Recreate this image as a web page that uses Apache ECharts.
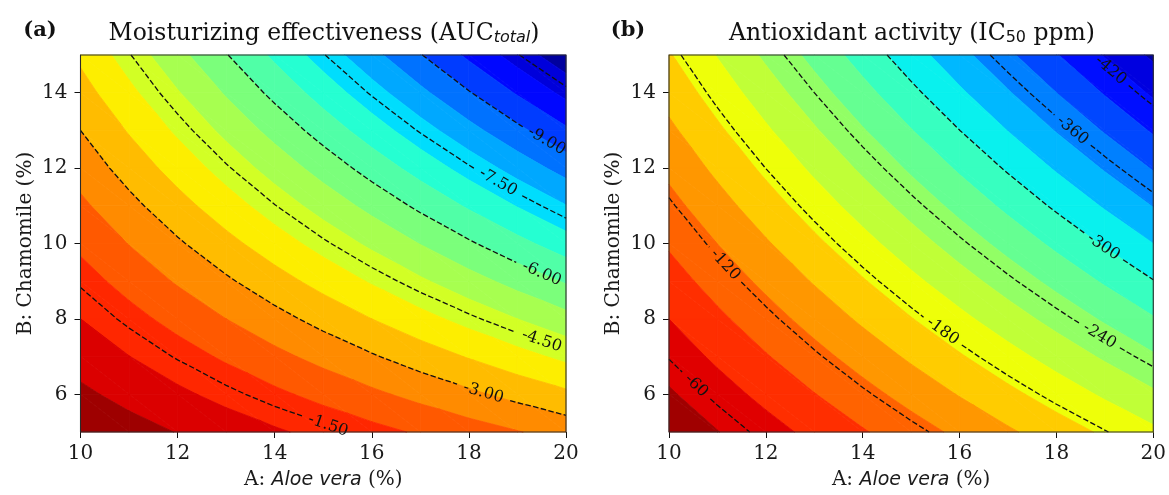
<!DOCTYPE html>
<html><head><meta charset="utf-8">
<script src="https://cdn.jsdelivr.net/npm/echarts@6/dist/echarts.min.js"></script>
<style>html,body{margin:0;padding:0;background:#fff}#c{width:1169px;height:495px}</style>
</head><body><div id="c"></div>
<script>
// ---------------- DATA ----------------
const aloeVera = [10, 11, 12, 13, 14, 15, 16, 17, 18, 19, 20];
const chamomile = [5, 6, 7, 8, 9, 10, 11, 12, 13, 14, 15];

// Moisturizing effectiveness (AUC_total), rows = chamomile 5..15, cols = aloe vera 10..20
const moisturizingAUC = [
  [-0.12, -0.37, -0.62, -0.87, -1.12, -1.37, -1.62, -1.87, -2.12, -2.37, -2.62],
  [-0.48, -0.78, -1.08, -1.38, -1.68, -1.98, -2.28, -2.58, -2.88, -3.18, -3.48],
  [-0.84, -1.19, -1.54, -1.89, -2.24, -2.59, -2.94, -3.29, -3.64, -3.99, -4.34],
  [-1.20, -1.60, -2.00, -2.40, -2.80, -3.20, -3.60, -4.00, -4.40, -4.80, -5.20],
  [-1.56, -2.01, -2.46, -2.91, -3.36, -3.81, -4.26, -4.71, -5.16, -5.61, -6.06],
  [-1.92, -2.42, -2.92, -3.42, -3.92, -4.42, -4.92, -5.42, -5.92, -6.42, -6.92],
  [-2.28, -2.83, -3.38, -3.93, -4.48, -5.03, -5.58, -6.13, -6.68, -7.23, -7.78],
  [-2.64, -3.24, -3.84, -4.44, -5.04, -5.64, -6.24, -6.84, -7.44, -8.04, -8.64],
  [-3.00, -3.65, -4.30, -4.95, -5.60, -6.25, -6.90, -7.55, -8.20, -8.85, -9.50],
  [-3.36, -4.06, -4.76, -5.46, -6.16, -6.86, -7.56, -8.26, -8.96, -9.66, -10.36],
  [-3.72, -4.47, -5.22, -5.97, -6.72, -7.47, -8.22, -8.97, -9.72, -10.47, -11.22]
];

// Antioxidant activity (IC50 ppm), rows = chamomile 5..15, cols = aloe vera 10..20
const antioxidantIC50 = [
  [-33, -49.2, -65.4, -81.6, -97.8, -114.0, -130.2, -146.4, -162.6, -178.8, -195.0],
  [-47, -64.4, -81.8, -99.2, -116.6, -134.0, -151.4, -168.8, -186.2, -203.6, -221.0],
  [-61, -79.6, -98.2, -116.8, -135.4, -154.0, -172.6, -191.2, -209.8, -228.4, -247.0],
  [-75, -94.8, -114.6, -134.4, -154.2, -174.0, -193.8, -213.6, -233.4, -253.2, -273.0],
  [-89, -110.0, -131.0, -152.0, -173.0, -194.0, -215.0, -236.0, -257.0, -278.0, -299.0],
  [-103, -125.2, -147.4, -169.6, -191.8, -214.0, -236.2, -258.4, -280.6, -302.8, -325.0],
  [-117, -140.4, -163.8, -187.2, -210.6, -234.0, -257.4, -280.8, -304.2, -327.6, -351.0],
  [-131, -155.6, -180.2, -204.8, -229.4, -254.0, -278.6, -303.2, -327.8, -352.4, -377.0],
  [-145, -170.8, -196.6, -222.4, -248.2, -274.0, -299.8, -325.6, -351.4, -377.2, -403.0],
  [-159, -186.0, -213.0, -240.0, -267.0, -294.0, -321.0, -348.0, -375.0, -402.0, -429.0],
  [-173, -201.2, -229.4, -257.6, -285.8, -314.0, -342.2, -370.4, -398.6, -426.8, -455.0]
];

const moistFillLevels = [-11.4, -10.8, -10.2, -9.6, -9.0, -8.4, -7.8, -7.2, -6.6, -6.0,
  -5.4, -4.8, -4.2, -3.6, -3.0, -2.4, -1.8, -1.2, -0.6, 0.0];
const moistLineLevels = [-10.5, -9.0, -7.5, -6.0, -4.5, -3.0, -1.5];
const antiFillLevels = [-475, -450, -425, -400, -375, -350, -325, -300, -275, -250,
  -225, -200, -175, -150, -125, -100, -75, -50, -25];
const antiLineLevels = [-420, -360, -300, -240, -180, -120, -60];

const xTicks = [10, 12, 14, 16, 18, 20];
const yTicks = [6, 8, 10, 12, 14];

// ---------------- layout / style ----------------
const moistLabelAt = { '-9': 19.6, '-7.5': 18.6, '-6': 19.5, '-4.5': 19.5, '-3': 18.3, '-1.5': 15.1 };
const antiLabelAt = { '-420': 19.12, '-360': 18.33, '-300': 18.97, '-240': 18.89, '-180': 15.65, '-120': 11.16, '-60': 10.56 };

const SERIF = '"DejaVu Serif", serif';
const SANS = '"DejaVu Sans", sans-serif';

function lerpTable(t, tab) {
  for (let k = 0; k < tab.length - 1; k++) {
    const a = tab[k], b = tab[k + 1];
    if (t >= a[0] && t <= b[0]) return a[1] + (t - a[0]) / (b[0] - a[0]) * (b[1] - a[1]);
  }
  return tab[tab.length - 1][1];
}
function jet(t) {
  const r = lerpTable(t, [[0, 0], [0.35, 0], [0.66, 1], [0.89, 1], [1, 0.5]]);
  const g = lerpTable(t, [[0, 0], [0.125, 0], [0.375, 1], [0.64, 1], [0.91, 0], [1, 0]]);
  const b = lerpTable(t, [[0, 0.5], [0.11, 1], [0.34, 1], [0.65, 0], [1, 0]]);
  return 'rgb(' + Math.round(r * 255) + ',' + Math.round(g * 255) + ',' + Math.round(b * 255) + ')';
}

function buildTriangles(xs, ys, z) {
  const tris = [];
  for (let j = 0; j < ys.length - 1; j++) for (let i = 0; i < xs.length - 1; i++) {
    const p00 = [xs[i], ys[j], z[j][i]], p10 = [xs[i + 1], ys[j], z[j][i + 1]];
    const p01 = [xs[i], ys[j + 1], z[j + 1][i]], p11 = [xs[i + 1], ys[j + 1], z[j + 1][i + 1]];
    tris.push([p00, p10, p01], [p10, p11, p01]);
  }
  return tris;
}
function clipPoly(poly, level, keepAbove) {
  const out = [], n = poly.length;
  for (let k = 0; k < n; k++) {
    const P = poly[k], Q = poly[(k + 1) % n];
    const pin = keepAbove ? P[2] >= level : P[2] <= level;
    const qin = keepAbove ? Q[2] >= level : Q[2] <= level;
    if (pin) out.push(P);
    if (pin !== qin) {
      const u = (level - P[2]) / (Q[2] - P[2]);
      out.push([P[0] + u * (Q[0] - P[0]), P[1] + u * (Q[1] - P[1]), level]);
    }
  }
  return out;
}
function bandPolys(tris, lo, hi) {
  const res = [];
  for (const t of tris) {
    let p = clipPoly(t, lo, true);
    if (p.length < 3) continue;
    p = clipPoly(p, hi, false);
    if (p.length >= 3) res.push(p);
  }
  return res;
}
function contourPath(tris, level) {
  const pts = [];
  for (const t of tris) for (let k = 0; k < 3; k++) {
    const P = t[k], Q = t[(k + 1) % 3];
    const sp = P[2] - level, sq = Q[2] - level;
    if ((sp < 0) !== (sq < 0)) {
      const u = sp / (sp - sq);
      pts.push([P[0] + u * (Q[0] - P[0]), P[1] + u * (Q[1] - P[1])]);
    }
  }
  pts.sort((a, b) => (a[0] - b[0]) || (b[1] - a[1]));
  const out = [];
  for (const p of pts) {
    const l = out[out.length - 1];
    if (!l || Math.abs(l[0] - p[0]) > 1e-7 || Math.abs(l[1] - p[1]) > 1e-7) out.push(p);
  }
  return out;
}
function pointAtX(path, x) {
  if (x <= path[0][0]) return path[0];
  for (let k = 0; k < path.length - 1; k++) {
    const a = path[k], b = path[k + 1];
    if (x >= a[0] && x <= b[0]) {
      const u = b[0] === a[0] ? 0 : (x - a[0]) / (b[0] - a[0]);
      return [a[0] + u * (b[0] - a[0]), a[1] + u * (b[1] - a[1])];
    }
  }
  return path[path.length - 1];
}
function splitByCircle(pts, c, r) {
  const pieces = []; let cur = [];
  const inside = p => (p[0] - c[0]) ** 2 + (p[1] - c[1]) ** 2 < r * r;
  for (let k = 0; k < pts.length; k++) {
    const p = pts[k];
    if (k === 0) { if (!inside(p)) cur.push(p); continue; }
    const a = pts[k - 1];
    const dx = p[0] - a[0], dy = p[1] - a[1], fx = a[0] - c[0], fy = a[1] - c[1];
    const A = dx * dx + dy * dy, B = 2 * (fx * dx + fy * dy), C = fx * fx + fy * fy - r * r;
    const disc = B * B - 4 * A * C;
    const ain = inside(a), pin = inside(p);
    if (A === 0 || disc <= 0) { if (!pin) cur.push(p); continue; }
    const sq = Math.sqrt(disc), t1 = (-B - sq) / (2 * A), t2 = (-B + sq) / (2 * A);
    if (!ain && !pin) {
      if (t1 > 0 && t1 < 1 && t2 > 0 && t2 < 1) {
        cur.push([a[0] + t1 * dx, a[1] + t1 * dy]); pieces.push(cur);
        cur = [[a[0] + t2 * dx, a[1] + t2 * dy], p];
      } else cur.push(p);
    } else if (!ain && pin) {
      cur.push([a[0] + t1 * dx, a[1] + t1 * dy]); pieces.push(cur); cur = [];
    } else if (ain && !pin) {
      cur = [[a[0] + t2 * dx, a[1] + t2 * dy], p];
    }
  }
  if (cur.length > 1) pieces.push(cur);
  return pieces.filter(q => q.length > 1);
}

function makePanel(idx, z, fillLevels, lineLevels, labelAt, fmt) {
  const tris = buildTriangles(aloeVera, chamomile, z);
  const nb = fillLevels.length - 1;
  const bands = [], colors = [];
  for (let k = 0; k < nb; k++) {
    bands.push(bandPolys(tris, fillLevels[k], fillLevels[k + 1]));
    colors.push(jet((k + 0.5) / nb));
  }
  const paths = lineLevels.map(l => contourPath(tris, l));
  const fillSeries = {
    type: 'custom', xAxisIndex: idx, yAxisIndex: idx, silent: true, z: 2,
    data: bands.map((_, k) => [10, 5, k]), encode: { x: 0, y: 1 },
    renderItem: (params, api) => {
      const k = api.value(2), col = colors[k];
      return { type: 'group', children: bands[k].map(poly => ({
        type: 'polygon', shape: { points: poly.map(p => api.coord([p[0], p[1]])) },
        style: { fill: col, stroke: col, lineWidth: 0.8, lineJoin: 'round' }
      })) };
    }
  };
  const lineSeries = {
    type: 'custom', xAxisIndex: idx, yAxisIndex: idx, silent: true, z: 5,
    data: lineLevels.map((_, k) => [10, 5, k]), encode: { x: 0, y: 1 },
    renderItem: (params, api) => {
      const k = api.value(2), path = paths[k], level = lineLevels[k];
      if (path.length < 2) return { type: 'group', children: [] };
      const px = path.map(p => api.coord(p));
      const children = [];
      const ax = labelAt[String(level)];
      let pieces = [px];
      if (ax !== undefined) {
        const txt = fmt(level);
        const fs = 16;
        const c = api.coord(pointAtX(path, ax));
        const p1 = api.coord(pointAtX(path, ax - 0.3)), p2 = api.coord(pointAtX(path, ax + 0.3));
        let ang = Math.atan2(p2[1] - p1[1], p2[0] - p1[0]);
        const w = txt.length * fs * 0.52;
        pieces = splitByCircle(px, c, w / 2 + 7);
        children.push({
          type: 'text', x: c[0], y: c[1], rotation: -ang, z2: 10,
          style: { text: txt, fill: '#111', fontSize: fs, fontFamily: SERIF, align: 'center', verticalAlign: 'middle' }
        });
      }
      pieces.forEach(pc => children.push({
        type: 'polyline', shape: { points: pc },
        style: { stroke: '#111', lineWidth: 1.3, lineDash: [5.5, 2.4], fill: null }
      }));
      return { type: 'group', children };
    }
  };
  const frameSeries = {
    type: 'custom', xAxisIndex: idx, yAxisIndex: idx, silent: true, z: 8,
    data: [[10, 5]], encode: { x: 0, y: 1 },
    renderItem: (params, api) => {
      const a = api.coord([aloeVera[0], chamomile[chamomile.length - 1]]);
      const b = api.coord([aloeVera[aloeVera.length - 1], chamomile[0]]);
      return { type: 'rect', shape: { x: a[0], y: a[1], width: b[0] - a[0], height: b[1] - a[1] },
        style: { fill: null, stroke: '#2a2a2a', lineWidth: 1.1 } };
    }
  };
  return [fillSeries, lineSeries, frameSeries];
}

const axisX = idx => ({
  gridIndex: idx, type: 'value', min: 10, max: 20, interval: 2,
  name: 'A: {i|Aloe vera} (%)', nameLocation: 'middle', nameGap: 38,
  nameTextStyle: { fontFamily: SERIF, fontSize: 20, color: '#1a1a1a',
    rich: { i: { fontFamily: SANS, fontStyle: 'italic', fontSize: 19, color: '#1a1a1a' } } },
  axisLine: { show: false },
  axisTick: { show: true, inside: false, length: 6, lineStyle: { color: '#111', width: 1 } },
  axisLabel: { fontFamily: SERIF, fontSize: 20, color: '#1a1a1a', margin: 12 },
  splitLine: { show: false }
});
const axisY = idx => ({
  gridIndex: idx, type: 'value', min: 5, max: 15,
  name: 'B: Chamomile (%)', nameLocation: 'middle', nameGap: 45, nameRotate: 90,
  nameTextStyle: { fontFamily: SERIF, fontSize: 20, color: '#1a1a1a' },
  axisLine: { show: false },
  axisTick: { show: true, inside: false, length: 6, customValues: yTicks, lineStyle: { color: '#111', width: 1 } },
  axisLabel: { fontFamily: SERIF, fontSize: 20, color: '#1a1a1a', margin: 13, customValues: yTicks },
  splitLine: { show: false }
});

const chart = echarts.init(document.getElementById('c'), null, { renderer: 'canvas', width: 1169, height: 495 });
chart.setOption({
  animation: false,
  backgroundColor: '#ffffff',
  grid: [
    { left: 80.5, top: 55, width: 485.5, height: 378 },
    { left: 669, top: 55, width: 486, height: 378 }
  ],
  xAxis: [axisX(0), axisX(1)],
  yAxis: [axisY(0), axisY(1)],
  graphic: [
    { type: 'text', x: 40, y: 31, style: { text: '(a)', fontFamily: SERIF, fontWeight: 'bold', fontSize: 21, fill: '#111', align: 'center', verticalAlign: 'middle' } },
    { type: 'text', x: 628, y: 31, style: { text: '(b)', fontFamily: SERIF, fontWeight: 'bold', fontSize: 21, fill: '#111', align: 'center', verticalAlign: 'middle' } },
    { type: 'text', x: 324, y: 34, style: { text: 'Moisturizing effectiveness (AUC{sub|total})', fontFamily: SERIF, fontSize: 23.5, fill: '#111', align: 'center', verticalAlign: 'middle',
      rich: { sub: { fontFamily: SANS, fontStyle: 'italic', fontSize: 16, fill: '#111', verticalAlign: 'bottom', lineHeight: 15 } } } },
    { type: 'text', x: 912, y: 34, style: { text: 'Antioxidant activity (IC{sub|50} ppm)', fontFamily: SERIF, fontSize: 23.5, fill: '#111', align: 'center', verticalAlign: 'middle',
      rich: { sub: { fontFamily: SANS, fontSize: 16, fill: '#111', verticalAlign: 'bottom', lineHeight: 15 } } } }
  ],
  series: [
    ...makePanel(0, moisturizingAUC, moistFillLevels, moistLineLevels, moistLabelAt, v => v.toFixed(2)),
    ...makePanel(1, antioxidantIC50, antiFillLevels, antiLineLevels, antiLabelAt, v => v.toFixed(0))
  ]
});
</script>
</body></html>
